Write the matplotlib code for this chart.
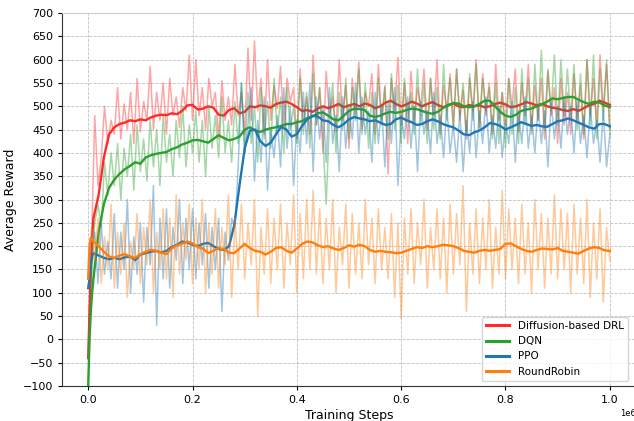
import numpy as np
import matplotlib
matplotlib.use("Agg")
from matplotlib import pyplot as plt

# smoothed curves (steps in units of 1e6)
smooth_steps = [0, 0.0025, 0.005, 0.0075] + [round(0.01 * i, 2) for i in range(1, 101)]

diffusion_smooth = [-40, 60, 150, 220,
    260, 310, 390, 440, 455, 462, 465, 470, 468, 472,
    470, 476, 480, 482, 481, 485, 483, 490, 502, 503,
    493, 495, 500, 497, 482, 480, 492, 496, 485, 488,
    500, 498, 502, 500, 497, 505, 508, 510, 505, 498,
    490, 492, 488, 495, 500, 496, 500, 505, 498, 502,
    505, 500, 506, 503, 496, 500, 508, 512, 505, 500,
    504, 510, 506, 500, 505, 509, 503, 498, 502, 506,
    500, 498, 503, 500, 502, 498, 500, 505, 508, 504,
    498, 500, 504, 509, 506, 502, 505, 500, 497, 495,
    492, 490, 494, 490, 496, 502, 505, 512, 508, 503]

dqn_smooth = [-100, 0, 60, 100,
    130, 230, 290, 325, 343, 355, 365, 372, 380, 377,
    390, 395, 398, 400, 402, 408, 412, 418, 422, 427,
    428, 425, 422, 430, 438, 432, 427, 430, 435, 450,
    455, 448, 445, 450, 453, 455, 458, 462, 462, 466,
    468, 475, 478, 485, 487, 480, 472, 470, 480, 490,
    495, 494, 492, 480, 477, 480, 485, 488, 486, 488,
    492, 495, 494, 490, 486, 484, 488, 496, 503, 507,
    506, 500, 498, 500, 505, 512, 512, 500, 488, 480,
    477, 482, 490, 493, 495, 500, 505, 510, 517, 515,
    518, 520, 520, 514, 509, 505, 510, 508, 502, 498]

ppo_smooth = [110, 130, 160, 178,
    185, 180, 175, 172, 175, 172, 176, 178, 170, 182,
    185, 188, 190, 186, 190, 198, 203, 210, 208, 203,
    200, 205, 207, 200, 194, 192, 200, 245, 330, 410,
    448, 450, 425, 415, 422, 440, 456, 450, 435, 440,
    458, 472, 480, 478, 470, 468, 460, 455, 462, 472,
    477, 474, 472, 468, 470, 465, 460, 462, 472, 476,
    470, 466, 460, 462, 468, 472, 468, 462, 458, 455,
    448, 440, 438, 444, 448, 455, 464, 462, 458, 450,
    455, 460, 466, 462, 458, 460, 457, 456, 462, 468,
    470, 474, 470, 465, 460, 455, 452, 462, 462, 457]

rr_smooth = [130, 200, 218, 215,
    210, 200, 188, 178, 175, 180, 183, 178, 175, 183,
    188, 192, 190, 186, 183, 195, 202, 205, 210, 206,
    198, 195, 185, 190, 196, 194, 186, 185, 195, 205,
    196, 190, 188, 182, 188, 196, 198, 190, 186, 195,
    205, 210, 208, 202, 198, 200, 195, 192, 196, 202,
    199, 203, 200, 192, 188, 190, 188, 187, 185, 186,
    190, 194, 198, 196, 200, 198, 200, 203, 202, 200,
    196, 190, 188, 186, 190, 192, 190, 192, 194, 205,
    206, 200, 194, 190, 188, 192, 195, 194, 193, 196,
    190, 188, 186, 184, 190, 195, 198, 196, 191, 190]

# raw episode rewards, 161 samples
raw_steps = [i / 160 for i in range(161)]

diffusion_raw = [-40, 200, 480, 330, 390, 500, 420, 470, 440, 540,
    430, 505, 450, 530, 420, 560, 445, 510, 470, 585,
    450, 530, 470, 550, 440, 560, 480, 520, 455, 540,
    490, 610, 470, 600, 480, 540, 450, 560, 500, 530,
    430, 555, 470, 520, 460, 590, 480, 530, 440, 625,
    470, 640, 490, 560, 440, 600, 470, 545, 495, 585,
    455, 560, 510, 540, 430, 580, 470, 520, 440, 610,
    460, 540, 400, 575, 480, 520, 445, 600, 470, 545,
    410, 560, 480, 595, 450, 530, 500, 570, 440, 590,
    470, 545, 355, 560, 490, 605, 460, 550, 420, 575,
    470, 540, 500, 580, 450, 560, 480, 600, 440, 545,
    490, 570, 460, 580, 470, 535, 430, 560, 490, 600,
    455, 570, 480, 550, 440, 590, 470, 530, 460, 560,
    500, 580, 445, 550, 480, 590, 450, 545, 470, 560,
    430, 575, 480, 540, 420, 560, 460, 530, 440, 570,
    470, 545, 430, 600, 480, 560, 460, 610, 490, 590,
    450]

dqn_raw = [-100, 120, 250, 290, 240, 380, 310, 400, 330, 420,
    300, 410, 350, 440, 320, 460, 360, 430, 340, 470,
    370, 450, 330, 480, 380, 440, 350, 470, 390, 500,
    370, 460, 400, 490, 380, 470, 350, 500, 410, 480,
    390, 520, 400, 470, 380, 510, 420, 550, 400, 530,
    420, 500, 380, 540, 430, 510, 410, 560, 440, 520,
    400, 540, 450, 500, 420, 560, 440, 530, 410, 570,
    460, 540, 430, 290, 470, 550, 400, 530, 450, 560,
    430, 540, 470, 580, 440, 550, 410, 530, 420, 560,
    460, 540, 430, 570, 450, 545, 420, 560, 470, 530,
    440, 580, 460, 550, 420, 560, 450, 540, 430, 590,
    470, 560, 450, 580, 480, 550, 440, 570, 470, 590,
    450, 560, 490, 540, 430, 550, 420, 530, 410, 560,
    440, 540, 420, 580, 460, 560, 440, 590, 470, 620,
    450, 580, 490, 610, 460, 600, 480, 580, 470, 590,
    450, 570, 440, 600, 460, 610, 430, 580, 470, 600,
    440]

ppo_raw = [110, 190, 230, 120, 250, 140, 210, 130, 270, 110,
    230, 150, 300, 100, 220, 140, 250, 80, 240, 160,
    330, 30, 260, 130, 280, 110, 240, 170, 300, 120,
    260, 150, 280, 130, 250, 160, 270, 110, 240, 150,
    260, 60, 230, 170, 260, 240, 370, 550, 400, 460,
    540, 340, 470, 380, 520, 320, 450, 390, 480, 370,
    540, 410, 500, 330, 470, 400, 530, 420, 550, 360,
    520, 430, 500, 380, 540, 420, 480, 360, 520, 410,
    500, 430, 550, 400, 520, 440, 490, 380, 530, 420,
    500, 370, 510, 420, 540, 330, 480, 430, 520, 410,
    500, 360, 510, 440, 490, 400, 530, 420, 480, 390,
    500, 400, 460, 380, 490, 360, 470, 400, 510, 390,
    490, 420, 520, 400, 480, 410, 500, 390, 470, 420,
    510, 380, 490, 420, 520, 410, 480, 400, 500, 420,
    490, 370, 510, 430, 500, 410, 520, 440, 500, 400,
    510, 420, 480, 390, 500, 420, 470, 380, 490, 370,
    440]

rr_raw = [130, 240, 170, 260, 120, 220, 150, 290, 110, 230,
    140, 250, 90, 210, 150, 270, 120, 240, 160, 300,
    100, 230, 150, 280, 130, 260, 90, 310, 140, 250,
    170, 290, 120, 260, 150, 300, 100, 250, 140, 280,
    110, 240, 160, 310, 90, 260, 150, 290, 130, 250,
    160, 300, 50, 240, 140, 280, 120, 260, 150, 290,
    110, 250, 160, 310, 100, 270, 130, 300, 150, 320,
    140, 280, 120, 260, 150, 300, 100, 240, 160, 290,
    110, 270, 140, 250, 130, 300, 160, 260, 120, 280,
    150, 240, 130, 270, 90, 250, 45, 260, 140, 280,
    120, 250, 160, 300, 110, 240, 150, 280, 130, 260,
    100, 290, 140, 270, 160, 330, 60, 250, 140, 280,
    120, 260, 150, 300, 110, 240, 140, 320, 130, 280,
    150, 260, 120, 290, 140, 250, 100, 300, 150, 270,
    110, 260, 140, 310, 130, 280, 150, 270, 100, 290,
    140, 260, 120, 300, 90, 250, 130, 280, 80, 240,
    170]

labels = ["Diffusion-based DRL", "DQN", "PPO", "RoundRobin"]
colors = ["#ff2a2a", "#2ca02c", "#1f77b4", "#ff7f0e"]
raws = [diffusion_raw, dqn_raw, ppo_raw, rr_raw]
smooths = [diffusion_smooth, dqn_smooth, ppo_smooth, rr_smooth]

fig = plt.figure(figsize=(6.34, 4.21), dpi=100)
ax = fig.add_axes([0.098, 0.083, 0.905, 0.886])

xr = np.array(raw_steps) * 1e6
xs = np.array(smooth_steps) * 1e6
for lab, c, r, s in zip(labels, colors, raws, smooths):
    ax.plot(xr, r, color=c, alpha=0.42, lw=1.1)
    ax.plot(xs, s, color=c, lw=1.7, label=lab)

ax.set_xlim(-0.05e6, 1.05e6)
ax.set_ylim(-100, 700)
ax.set_yticks(range(-100, 701, 50))
ax.set_xticks([0, 0.2e6, 0.4e6, 0.6e6, 0.8e6, 1.0e6])
ax.grid(True, linestyle="--", color="#b0b0b0", lw=0.6, alpha=0.8)
ax.tick_params(labelsize=8, length=3)
for side in ["top", "right"]:
    ax.spines[side].set_color("#cccccc")
for side in ["left", "bottom"]:
    ax.spines[side].set_color("#333333")
ax.xaxis.get_offset_text().set_fontsize(6)

ax.set_xlabel("Training Steps", fontsize=9, labelpad=3)
ax.set_ylabel("Average Reward", fontsize=9)
leg = ax.legend(loc="lower right", fontsize=7.5, handlelength=2.2,
                bbox_to_anchor=(0.995, 0.0))
for h in leg.get_lines():
    h.set_linewidth(2.2)

fig.savefig("out.png", dpi=100)
